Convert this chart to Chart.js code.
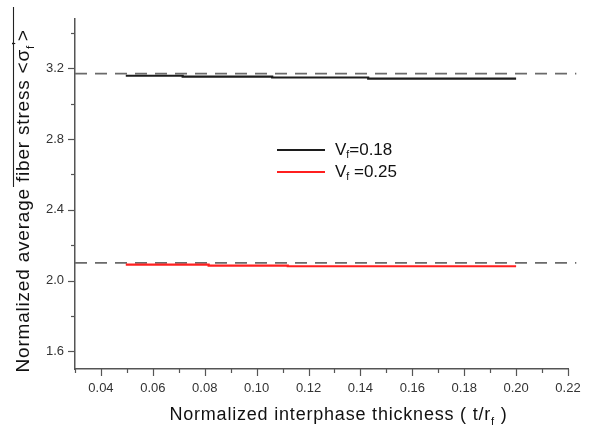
<!DOCTYPE html>
<html><head><meta charset="utf-8">
<script src="https://cdn.jsdelivr.net/npm/chart.js@4"></script>
<style>html,body{margin:0;padding:0;background:#fff}#wrap{width:595px;height:430px}</style>
</head><body><div id="wrap"><canvas id="c" width="595" height="430"></canvas></div>
<script>
// ---- data ----
const xTickLabels = ['0.04','0.06','0.08','0.10','0.12','0.14','0.16','0.18','0.20','0.22'];
const yTickLabels = ['1.6','2.0','2.4','2.8','3.2'];
const seriesA_X = [0.05, 0.0715, 0.106, 0.143, 0.177, 0.20];   // Vf = 0.18
const seriesA_Y = [3.163, 3.158, 3.153, 3.148, 3.142, 3.142];
const seriesB_X = [0.05, 0.0815, 0.112, 0.158, 0.20];           // Vf = 0.25
const seriesB_Y = [2.096, 2.090, 2.085, 2.081, 2.081];
const refX = [0.03, 0.2232];
const refA = 3.17;
const refB = 2.10;

const FONT = '"Liberation Sans", Arial, Helvetica, sans-serif';

function pts(xs, ys){ return xs.map((x,i)=>({x:x, y:ys[i]})); }

function drawRich(ctx, parts, x, y, size, align){
  const sz = p => p.s ? size*(p.s==='sup'?0.8:0.62) : size;
  const widths = parts.map(p=>{
    ctx.font = sz(p) + 'px ' + FONT;
    return ctx.measureText(p.t).width;
  });
  const total = widths.reduce((a,b)=>a+b,0);
  let cx = align === 'center' ? x - total/2 : x;
  parts.forEach((p,i)=>{
    ctx.font = sz(p) + 'px ' + FONT;
    let dy = 0;
    if (p.s === 'sub') dy = size*0.28;
    if (p.s === 'sup') dy = -size*0.35;
    ctx.fillText(p.t, cx, y + dy);
    cx += widths[i];
  });
  return cx;
}

const decor = {
  id: 'decor',
  afterDraw(chart){
    const ctx = chart.ctx;
    ctx.save();
    ctx.strokeStyle = '#555';
    ctx.lineWidth = 1.2;
    const xs = chart.scales.x, ys = chart.scales.y;
    xs.ticks.forEach(t=>{
      const px = Math.round(xs.getPixelForValue(t.value)) + 0.5;
      const len = t.label ? 7 : 4;
      ctx.beginPath(); ctx.moveTo(px, xs.top); ctx.lineTo(px, xs.top + len); ctx.stroke();
    });
    ys.ticks.forEach(t=>{
      const py = Math.round(ys.getPixelForValue(t.value)) + 0.5;
      const len = t.label ? 7 : 4;
      ctx.beginPath(); ctx.moveTo(ys.right, py); ctx.lineTo(ys.right - len, py); ctx.stroke();
    });
    ctx.restore();

    const ca = chart.chartArea;
    ctx.save();
    ctx.fillStyle = '#111';
    ctx.textBaseline = 'alphabetic';
    ctx.letterSpacing = '0.8px';
    drawRich(ctx, [
      {t:'Normalized interphase thickness ( t/r'}, {t:'f', s:'sub'}, {t:' )'}
    ], (ca.left + ca.right)/2 + 17, 420, 18, 'center');
    ctx.restore();

    ctx.save();
    ctx.fillStyle = '#111';
    ctx.textBaseline = 'alphabetic';
    ctx.letterSpacing = '0.8px';
    ctx.translate(29, (ca.top + ca.bottom)/2 + 7);
    ctx.rotate(-Math.PI/2);
    drawRich(ctx, [
      {t:'Normalized average fiber stress <σ'}, {t:'f', s:'sub'}, {t:"'", s:'sup'}, {t:'>'}
    ], 0, 0, 19, 'center');
    ctx.restore();
    ctx.save();
    ctx.strokeStyle = '#222';
    ctx.lineWidth = 1.1;
    ctx.beginPath();
    ctx.moveTo(13.5, 187);
    ctx.lineTo(13.5, 7);
    ctx.stroke();
    ctx.restore();

    ctx.save();
    const items = [
      {ds: chart.data.datasets[0], parts:[{t:'V'},{t:'f',s:'sub'},{t:'=0.18'}], y:150},
      {ds: chart.data.datasets[1], parts:[{t:'V'},{t:'f',s:'sub'},{t:' =0.25'}], y:172}
    ];
    items.forEach(it=>{
      ctx.strokeStyle = it.ds.borderColor;
      ctx.lineWidth = 2.2;
      ctx.beginPath(); ctx.moveTo(277, it.y); ctx.lineTo(325, it.y); ctx.stroke();
      ctx.fillStyle = '#111';
      ctx.textBaseline = 'middle';
      drawRich(ctx, it.parts, 335, it.y, 17, 'left');
    });
    ctx.restore();
  }
};

new Chart(document.getElementById('c'), {
  type: 'line',
  data: {
    datasets: [
      {label:'Vf=0.18', data: pts(seriesA_X, seriesA_Y), stepped:'after', borderColor:'#1c1c1c', borderWidth:2.2, pointRadius:0, fill:false},
      {label:'Vf=0.25', data: pts(seriesB_X, seriesB_Y), stepped:'after', borderColor:'#ff1f1f', borderWidth:2.2, pointRadius:0, fill:false},
      {label:'refA', data: refX.map(x=>({x:x, y:refA})), borderColor:'#6a6a6a', borderWidth:1.6, borderDash:[12,8], pointRadius:0, clip:false},
      {label:'refB', data: refX.map(x=>({x:x, y:refB})), borderColor:'#6a6a6a', borderWidth:1.6, borderDash:[12,8], pointRadius:0, clip:false}
    ]
  },
  options: {
    responsive:false, animation:false, devicePixelRatio:1,
    layout:{padding:{top:7, right:27, left:0, bottom:0}},
    plugins:{legend:{display:false}, tooltip:{enabled:false}, title:{display:false}},
    scales:{
      x:{
        type:'linear', min:0.03, max:0.22,
        afterBuildTicks(s){
          const v=[]; for(let i=3;i<=22;i++) v.push({value:i/100});
          s.ticks = v;
        },
        afterFit(s){ s.height = 61; },
        grid:{display:true, drawOnChartArea:false, drawTicks:false},
        border:{display:true, color:'#555', width:1.5},
        ticks:{
          autoSkip:false, maxRotation:0, minRotation:0, padding:12,
          color:'#333', font:{family:FONT, size:13},
          callback(v){ const s = Number(v).toFixed(2); return xTickLabels.includes(s) ? s : ''; }
        }
      },
      y:{
        type:'linear', min:1.5, max:3.48,
        afterBuildTicks(s){
          const v=[]; for(let i=8;i<=17;i++) v.push({value:i/5});
          s.ticks = v;
        },
        afterFit(s){ s.width = 75; },
        grid:{display:true, drawOnChartArea:false, drawTicks:false},
        border:{display:true, color:'#555', width:1.5},
        ticks:{
          autoSkip:false, padding:11,
          color:'#333', font:{family:FONT, size:13},
          callback(v){ const s = Number(v).toFixed(1); return yTickLabels.includes(s) ? s : ''; }
        }
      }
    }
  },
  plugins:[decor]
});
</script>
</body></html>
